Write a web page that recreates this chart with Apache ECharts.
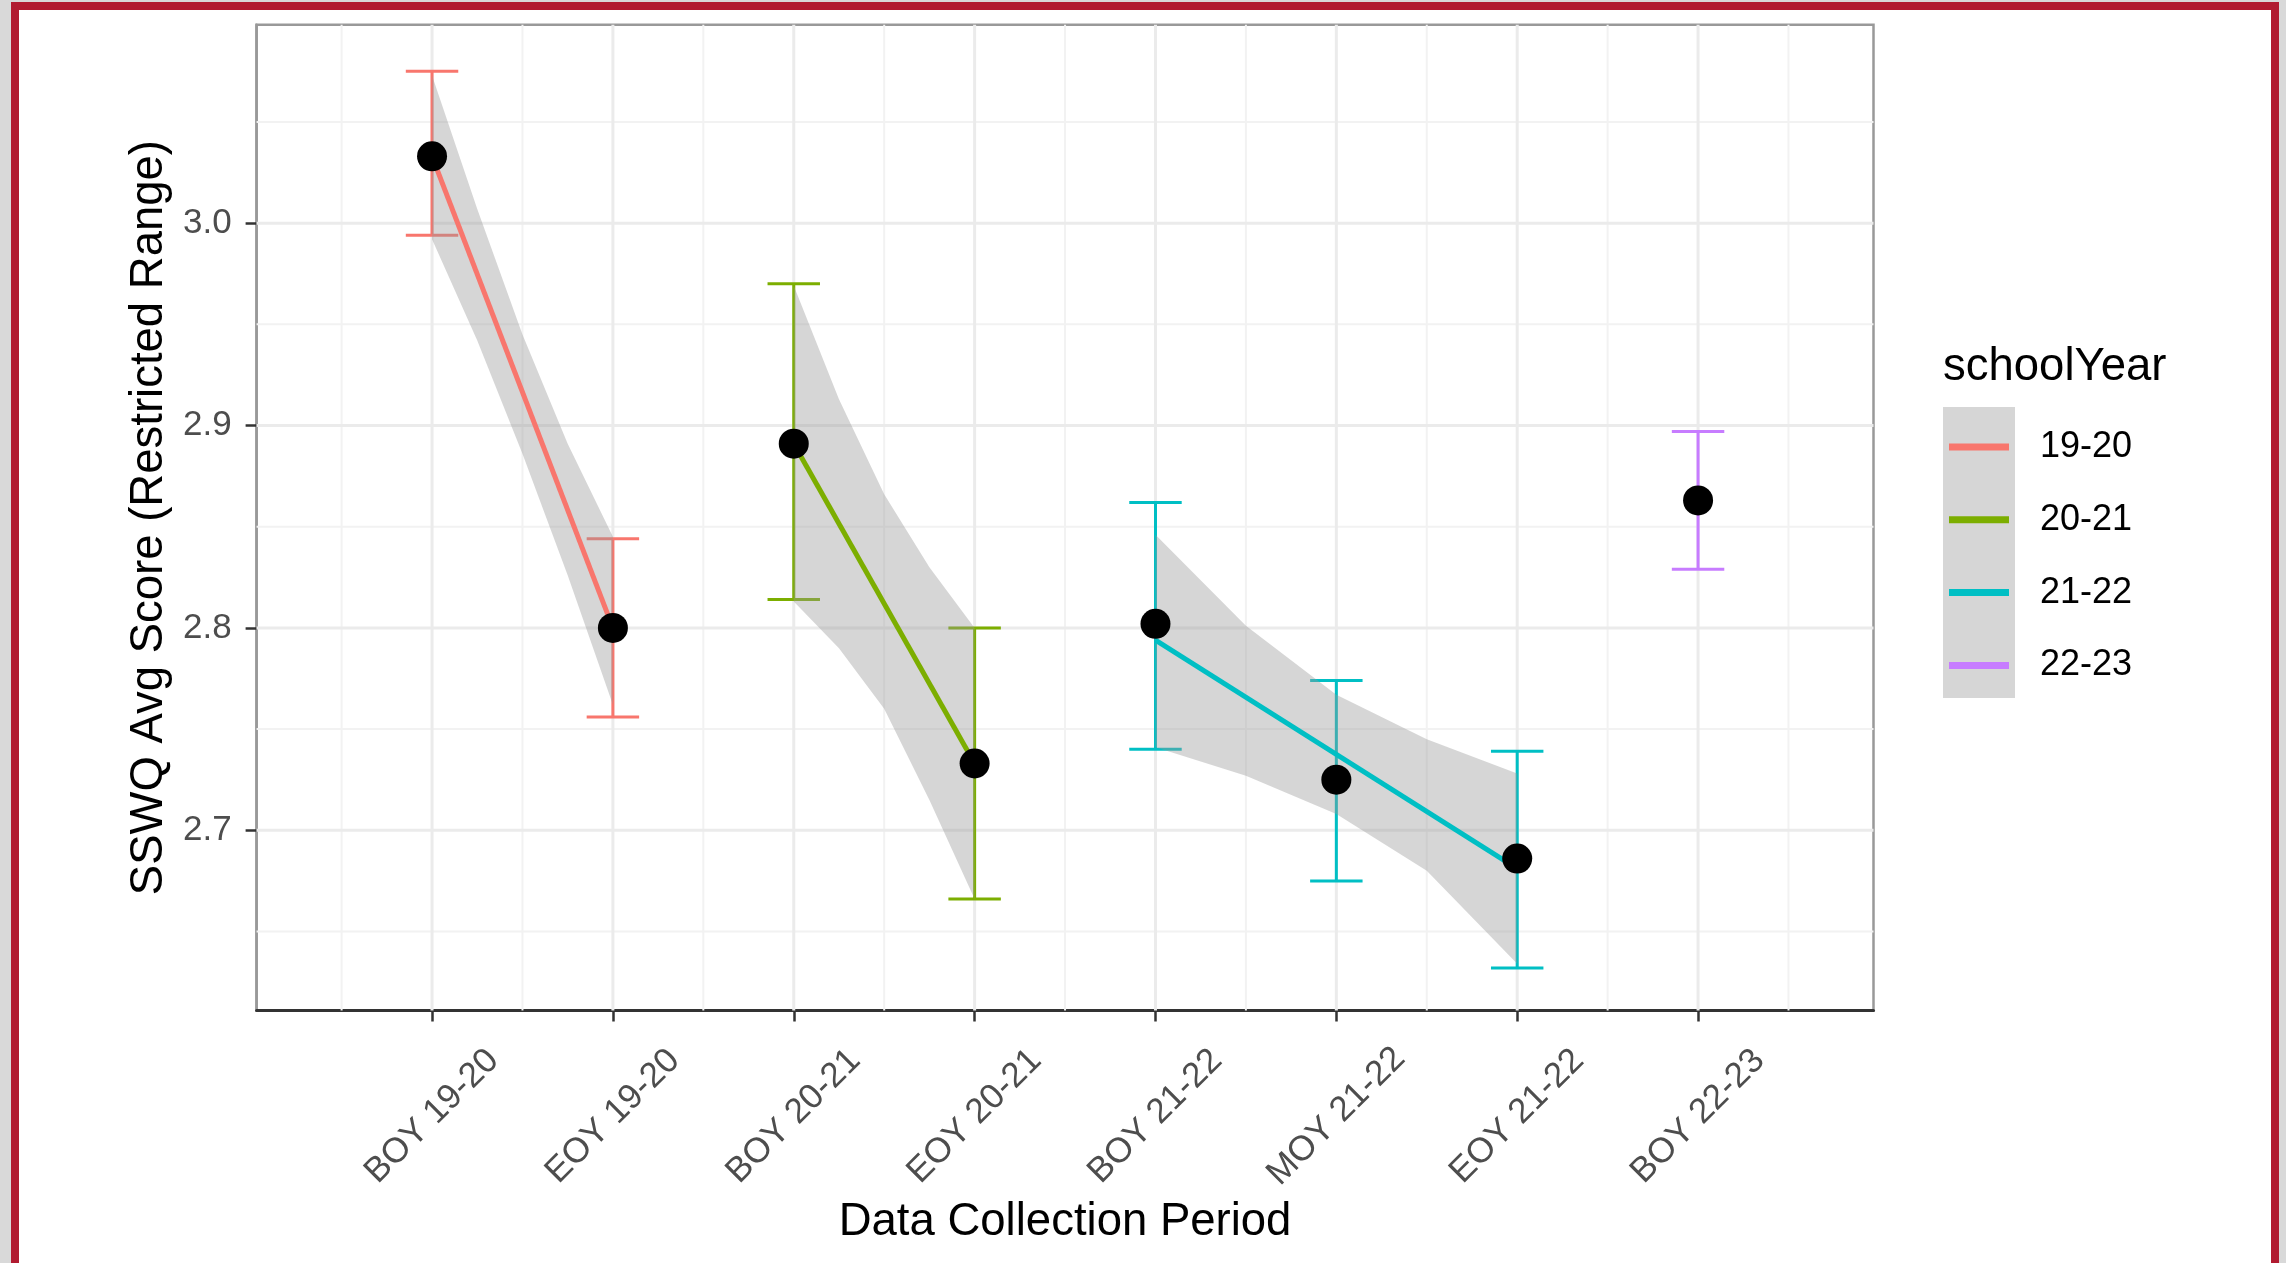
<!DOCTYPE html>
<html><head><meta charset="utf-8">
<script src="https://cdn.jsdelivr.net/npm/echarts@6/dist/echarts.min.js"></script>
<style>
html,body{margin:0;padding:0;width:2286px;height:1263px;overflow:hidden;background:#d9d9d9;}
#frame{position:absolute;left:11px;top:2px;width:2252px;height:1320px;border:8px solid #b11b30;background:#fff;}
#chart{position:absolute;left:0;top:0;width:2286px;height:1263px;}
</style></head>
<body><div id="frame"></div><div id="chart"></div>
<script>
// ---- data ----
const periods = ['BOY 19-20','EOY 19-20','BOY 20-21','EOY 20-21','BOY 21-22','MOY 21-22','EOY 21-22','BOY 22-23'];
const periodPos = [0,1,2,3,4,5,6,7];
const meanScore = [3.033, 2.800, 2.891, 2.733, 2.802, 2.725, 2.686, 2.863];
const ciLow  = [2.994, 2.756, 2.814, 2.666, 2.740, 2.675, 2.632, 2.829];
const ciHigh = [3.075, 2.844, 2.970, 2.800, 2.862, 2.774, 2.739, 2.897];
const periodYear = ['19-20','19-20','20-21','20-21','21-22','21-22','21-22','22-23'];
const schoolYears = ['19-20','20-21','21-22','22-23'];
const yearColors = ['#F8766D','#7CAE00','#00BFC4','#C77CFF'];

// fitted trend lines (endpoints)
const fitX1920 = [0, 1];  const fitY1920 = [3.033, 2.800];
const fitX2021 = [2, 3];  const fitY2021 = [2.891, 2.733];
const fitX2122 = [4, 6];  const fitY2122 = [2.794, 2.681];

// confidence ribbons
const bandX1920 = [0, 0.25, 0.5, 0.75, 1];
const bandLo1920 = [2.992, 2.942, 2.886, 2.826, 2.762];
const bandHi1920 = [3.073, 3.007, 2.945, 2.891, 2.845];
const bandX2021 = [2, 2.25, 2.5, 2.75, 3];
const bandLo2021 = [2.813, 2.790, 2.760, 2.715, 2.666];
const bandHi2021 = [2.969, 2.913, 2.866, 2.830, 2.800];
const bandX2122 = [4, 4.5, 5, 5.5, 6];
const bandLo2122 = [2.741, 2.727, 2.708, 2.680, 2.634];
const bandHi2122 = [2.846, 2.801, 2.767, 2.745, 2.728];

// axis ticks / grid
const yTicks = [2.7, 2.8, 2.9, 3.0];
const yMinor = [2.65, 2.75, 2.85, 2.95, 3.05];
const xMinor = [-0.5, 0.5, 1.5, 2.5, 3.5, 4.5, 5.5, 6.5, 7.5];

// ---- chart ----
const FONT = '"Liberation Sans", Arial, sans-serif';
const chart = echarts.init(document.getElementById('chart'), null, {renderer:'canvas'});

const gridData = [].concat(
  yMinor.map(v => [0, v, 1]),
  xMinor.map(v => [v, 2.7, 3]),
  yTicks.map(v => [0, v, 0]),
  periodPos.map(v => [v, 2.7, 2])
);

function gridRender(params, api) {
  const cs = params.coordSys;
  const kind = api.value(2);
  const p = api.coord([api.value(0), api.value(1)]);
  const major = (kind === 0 || kind === 2);
  const style = {stroke: major ? '#ebebeb' : '#f2f2f2', lineWidth: major ? 3 : 2};
  if (kind < 2) return {type:'line', shape:{x1:cs.x, y1:p[1], x2:cs.x+cs.width, y2:p[1]}, style};
  return {type:'line', shape:{x1:p[0], y1:cs.y, x2:p[0], y2:cs.y+cs.height}, style};
}

const capWidth = 0.29;
function errRender(params, api) {
  const x = api.value(0), lo = api.value(1), hi = api.value(2);
  const pLo = api.coord([x, lo]), pHi = api.coord([x, hi]);
  const hw = api.size([capWidth, 0])[0] / 2;
  const style = {stroke: api.visual('color'), lineWidth: 3};
  return {type:'group', children:[
    {type:'line', shape:{x1:pLo[0], y1:pLo[1], x2:pHi[0], y2:pHi[1]}, style},
    {type:'line', shape:{x1:pHi[0]-hw, y1:pHi[1], x2:pHi[0]+hw, y2:pHi[1]}, style},
    {type:'line', shape:{x1:pLo[0]-hw, y1:pLo[1], x2:pLo[0]+hw, y2:pLo[1]}, style}
  ]};
}

function makeBand(xs, lo, hi) {
  return {
    type:'custom', z:3, silent:true,
    data: xs.map((x,k) => [x, lo[k], hi[k]]),
    encode:{x:0, y:[1,2]},
    renderItem(params, api) {
      if (params.dataIndex !== 0) return null;
      const upper = xs.map((x,k) => api.coord([x, hi[k]]));
      const lower = xs.map((x,k) => api.coord([x, lo[k]])).reverse();
      return {type:'polygon', shape:{points: upper.concat(lower)}, style:{fill:'rgba(153,153,153,0.4)'}};
    }
  };
}

function makeFit(name, xs, ys, color) {
  return {
    type:'line', name, z:4, silent:true, showSymbol:false, symbol:'none',
    data: xs.map((x,k) => [x, ys[k]]),
    lineStyle:{color, width:5}, itemStyle:{color}
  };
}

const series = [
  {type:'custom', z:1, silent:true, data:gridData, renderItem:gridRender, encode:{x:0, y:1}}
];
schoolYears.forEach((yr, gi) => {
  const idx = periodPos.filter(i => periodYear[i] === yr);
  series.push({
    type:'custom', name:yr, z:2, silent:true,
    itemStyle:{color:yearColors[gi]},
    data: idx.map(i => [periodPos[i], ciLow[i], ciHigh[i]]),
    encode:{x:0, y:[1,2]},
    renderItem: errRender
  });
});
series.push(makeBand(bandX1920, bandLo1920, bandHi1920));
series.push(makeBand(bandX2021, bandLo2021, bandHi2021));
series.push(makeBand(bandX2122, bandLo2122, bandHi2122));
series.push(makeFit('19-20', fitX1920, fitY1920, yearColors[0]));
series.push(makeFit('20-21', fitX2021, fitY2021, yearColors[1]));
series.push(makeFit('21-22', fitX2122, fitY2122, yearColors[2]));
series.push({
  type:'scatter', z:5, silent:true, symbol:'circle', symbolSize:30,
  itemStyle:{color:'#000', opacity:1},
  data: periodPos.map(i => [periodPos[i], meanScore[i]])
});

chart.setOption({
  animation:false,
  backgroundColor:'transparent',
  textStyle:{fontFamily:FONT},
  grid:{left:256.6, right:412.5, top:24.8, bottom:252.6, show:true, borderColor:'#999999', borderWidth:2.5, backgroundColor:'transparent'},
  xAxis:{
    type:'value', min:-0.97, max:7.97,
    axisLine:{show:true, onZero:false, lineStyle:{color:'#333333', width:3}},
    axisTick:{show:true, length:11, customValues:periodPos, lineStyle:{color:'#333333', width:2.5}},
    axisLabel:{customValues:periodPos, formatter:v => periods[Math.round(v)], rotate:45, align:'center', verticalAlign:'middle',
               margin:106, fontSize:35, color:'#4d4d4d', fontFamily:FONT},
    splitLine:{show:false},
    name:'Data Collection Period', nameLocation:'middle', nameGap:186,
    nameTextStyle:{fontSize:45.5, color:'#000', fontFamily:FONT}
  },
  yAxis:{
    type:'value', min:2.611, max:3.098,
    axisLine:{show:true, onZero:false, lineStyle:{color:'#999999', width:2.5}},
    axisTick:{show:true, length:11, customValues:yTicks, lineStyle:{color:'#333333', width:2.5}},
    axisLabel:{customValues:yTicks, formatter:v => v.toFixed(1), fontSize:35, color:'#4d4d4d', margin:25, fontFamily:FONT},
    splitLine:{show:false},
    name:'SSWQ Avg Score (Restricted Range)', nameLocation:'middle', nameRotate:90, nameGap:82,
    nameTextStyle:{fontSize:45.5, color:'#000', fontFamily:FONT}
  },
  legend:{
    orient:'vertical', left:1949, top:427, padding:0,
    itemWidth:60, itemHeight:7, itemGap:32.8, icon:'rect', selectedMode:false,
    data: schoolYears.map((y,i) => ({name:y, icon:'rect', itemStyle:{color:yearColors[i]}})),
    textStyle:{fontSize:36, color:'#000', lineHeight:40, padding:[0,0,0,26], fontFamily:FONT}
  },
  graphic:[
    {type:'rect', z:-1, shape:{x:1943, y:407, width:72, height:291}, style:{fill:'#d6d6d6'}},
    {type:'text', left:1943, top:344, style:{text:'schoolYear', font:'45.5px "Liberation Sans", Arial, sans-serif', fill:'#000'}}
  ],
  series
});
</script>
</body></html>
